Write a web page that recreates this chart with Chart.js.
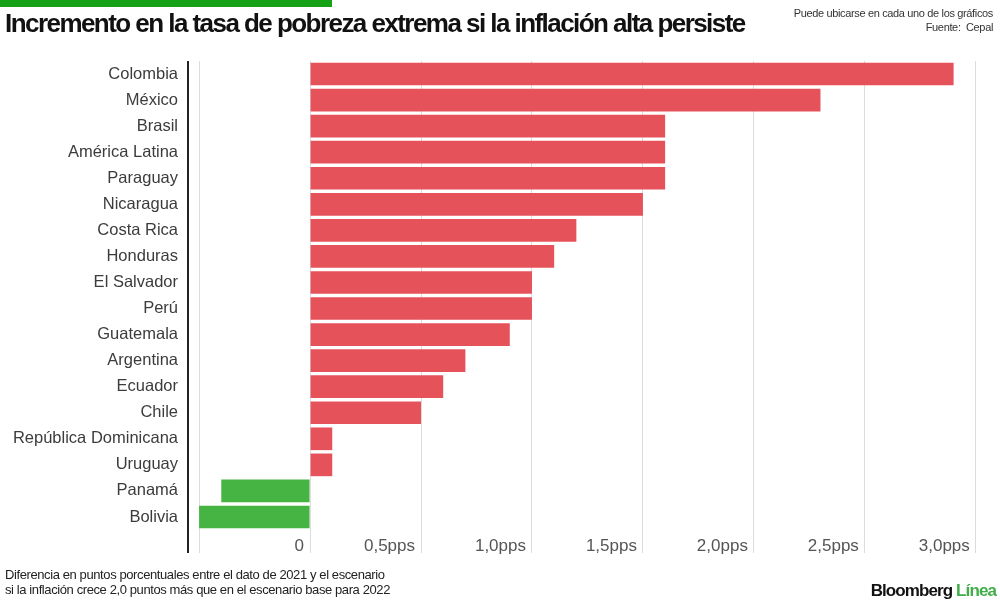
<!DOCTYPE html>
<html>
<head>
<meta charset="utf-8">
<script src="https://cdn.jsdelivr.net/npm/chart.js@4"></script>
<style>
body{margin:0;background:#fff;width:1000px;height:600px;position:relative;overflow:hidden;font-family:"Liberation Sans",Arial,sans-serif}
#bar{position:absolute;left:0;top:0;width:332px;height:7px;background:#17a117}
#title{position:absolute;left:5px;top:8px;font-size:26px;font-weight:bold;color:#111;letter-spacing:-1.55px;white-space:nowrap}
#note{position:absolute;right:7px;top:6px;font-size:11px;line-height:14px;color:#333;text-align:right;letter-spacing:-0.35px}
#foot{position:absolute;left:5px;top:567px;font-size:13px;line-height:15px;color:#222;letter-spacing:-0.4px}
#logo{position:absolute;right:4px;top:581px;font-size:17px;font-weight:bold;color:#111;letter-spacing:-0.9px}
#logo span{color:#3fae49}
canvas{position:absolute;left:0;top:0}
</style>
</head>
<body>
<canvas id="chart" width="1000" height="600"></canvas>
<div id="bar"></div>
<div id="title">Incremento en la tasa de pobreza extrema si la inflación alta persiste</div>
<div id="note">Puede ubicarse en cada uno de los gráficos<br>Fuente:&nbsp; Cepal</div>
<div id="foot">Diferencia en puntos porcentuales entre el dato de 2021 y el escenario<br>si la inflación crece 2,0 puntos más que en el escenario base para 2022</div>
<div id="logo">Bloomberg <span>Línea</span></div>
<script>
// datos
const paises = ["Colombia","México","Brasil","América Latina","Paraguay","Nicaragua","Costa Rica","Honduras","El Salvador","Perú","Guatemala","Argentina","Ecuador","Chile","República Dominicana","Uruguay","Panamá","Bolivia"]
const incremento = [2.9,2.3,1.6,1.6,1.6,1.5,1.2,1.1,1.0,1.0,0.9,0.7,0.6,0.5,0.1,0.1,-0.4,-0.5]
const tickValues = [-0.55,-0.5,0,0.5,1,1.5,2,2.5,3]
const tickLabels = ["","","0","0,5pps","1,0pps","1,5pps","2,0pps","2,5pps","3,0pps"]

new Chart(
document.getElementById("chart"),
{
type:"bar",
data:{
labels:paises,
datasets:[{
data:incremento,
backgroundColor:incremento.map(v => v < 0 ? "#46b443" : "#e6525a"),
barPercentage:0.87,
categoryPercentage:1
}]
},
options:{
indexAxis:"y",
responsive:false,
animation:false,
layout:{padding:{top:61,right:2,left:0,bottom:0}},
plugins:{legend:{display:false},tooltip:{enabled:false}},
scales:{
x:{
min:-0.55,
max:3.1,
afterBuildTicks:(scale) => { scale.ticks = tickValues.map(v => ({value:v})) },
afterFit:(scale) => { scale.height = 70 },
border:{display:false},
grid:{
color:(ctx) => ctx.index === 0 ? "#222" : "#dcdcdc",
lineWidth:(ctx) => ctx.index === 0 ? 2 : 1,
tickLength:23
},
ticks:{
align:"end",
labelOffset:-6,
padding:-17,
color:"#555",
font:{family:"Liberation Sans",size:17},
callback:(value, i) => tickLabels[i]
}
},
y:{
afterFit:(scale) => { scale.width = 188 },
border:{display:false},
grid:{display:false},
ticks:{
padding:2,
color:"#3c3c3c",
font:{family:"Liberation Sans",size:16.5}
}
}
}
}
}
)
</script>
</body>
</html>
